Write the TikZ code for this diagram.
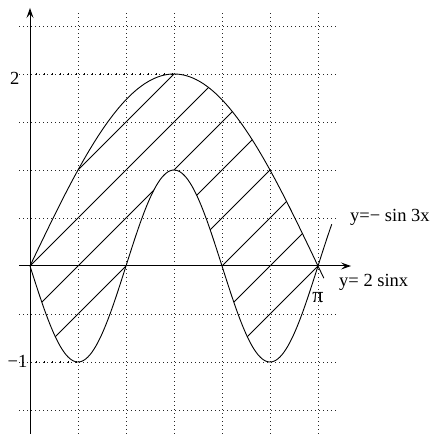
\documentclass[tikz,border=0pt]{standalone}
\usepackage{fontspec}
\setmainfont{Liberation Serif}
\usetikzlibrary{arrows.meta}
\begin{document}
\begin{tikzpicture}[x=1bp,y=1bp,
  gridline/.style={line width=0.9bp, dash pattern=on 1bp off 3bp, black!85},
  axisline/.style={line width=1bp, -{Stealth[length=10bp,width=7bp,inset=4bp]}},
  curveline/.style={line width=0.9bp},
  hatchline/.style={line width=0.9bp},
  lbl/.style={font=\fontsize{18.5bp}{22bp}\selectfont, inner sep=0pt},
  tickmarks/.style={line width=2.2bp, dash pattern=on 0.8bp off 7.2bp, dash phase=2bp}
]
\useasboundingbox (0,0) rectangle (435,434);
\coordinate (O) at (30,168);
% grid
\foreach \yy in {24,72,120,216,264,312,360,408}
  \draw[gridline] (19,\yy) -- (338,\yy);
\foreach \xx in {78,126,174,222,270,318}
  \draw[gridline] (\xx,0) -- (\xx,421);
% denser marks on the 2 and -1 levels
\coordinate (t2a) at (30,360);
\coordinate (t2b) at (174,360);
\coordinate (t1a) at (30,72);
\coordinate (t1b) at (78,72);
\draw[tickmarks] (t2a) -- (t2b);
\draw[tickmarks] (t1a) -- (t1b);
% hatching between the curves
\begin{scope}
\clip plot[domain=0:pi, samples=160] ({30+91.673*\x},{168+192*sin(\x r)})
  -- plot[domain=pi:0, samples=160] ({30+91.673*\x},{168-96*sin(3*\x r)}) -- cycle;
\foreach \k in {-48,0,48,96,192,240,288}
  \draw[hatchline] ({30+\k-200},{168-200}) -- ++(600,600);
\draw[hatchline] (130,124) -- ++(400,400);
\end{scope}
% curves
\draw[curveline] plot[domain=0:3.207, samples=160, smooth] ({30+91.673*\x},{168+192*sin(\x r)});
\draw[curveline] plot[domain=0:3.294, samples=200, smooth] ({30+91.673*\x},{168-96*sin(3*\x r)});
% axes
\coordinate (xa) at (19,168);
\coordinate (xb) at (351,168);
\coordinate (ya) at (30,0);
\coordinate (yb) at (30,426);
\draw[axisline] (xa) -- (xb);
\draw[axisline] (ya) -- (yb);
% labels
\node[lbl, anchor=west] (lg) at (350,217) {y=− sin 3x};
\node[lbl, anchor=west] (lf) at (339,152) {y= 2 sinx};
\node[lbl, anchor=base east] (l2) at (19.5,349) {2};
\node[lbl, anchor=base east] (lm1) at (27.5,66) {−1};
\node[font=\fontsize{22bp}{24bp}\selectfont, inner sep=0pt] (pisym) at (318,136) {π};
\end{tikzpicture}
\end{document}
